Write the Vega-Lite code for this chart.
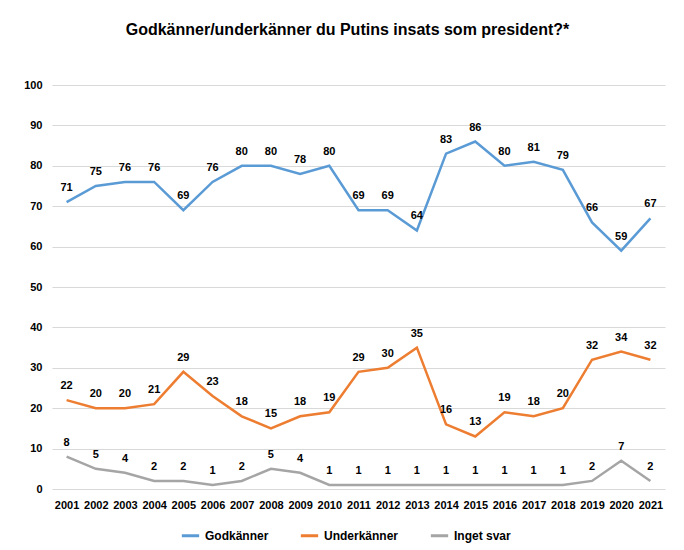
{
  "$schema": "https://vega.github.io/schema/vega-lite/v6.json",
  "width": 613,
  "height": 404,
  "autosize": "none",
  "padding": {"left": 52, "top": 85, "right": 19, "bottom": 61},
  "background": "white",
  "title": {
    "text": "Godkänner/underkänner  du Putins insats som president?*",
    "font": "Liberation Sans",
    "fontSize": 16,
    "fontWeight": "bold",
    "color": "#000000",
    "anchor": "middle",
    "dx": -11,
    "offset": 41
  },
  "config": {
    "view": {"stroke": null},
    "font": "Liberation Sans"
  },
  "datasets": {
    "d": [
      {"year": "2001", "series": "Godkänner", "value": 71},
      {"year": "2002", "series": "Godkänner", "value": 75},
      {"year": "2003", "series": "Godkänner", "value": 76},
      {"year": "2004", "series": "Godkänner", "value": 76},
      {"year": "2005", "series": "Godkänner", "value": 69},
      {"year": "2006", "series": "Godkänner", "value": 76},
      {"year": "2007", "series": "Godkänner", "value": 80},
      {"year": "2008", "series": "Godkänner", "value": 80},
      {"year": "2009", "series": "Godkänner", "value": 78},
      {"year": "2010", "series": "Godkänner", "value": 80},
      {"year": "2011", "series": "Godkänner", "value": 69},
      {"year": "2012", "series": "Godkänner", "value": 69},
      {"year": "2013", "series": "Godkänner", "value": 64},
      {"year": "2014", "series": "Godkänner", "value": 83},
      {"year": "2015", "series": "Godkänner", "value": 86},
      {"year": "2016", "series": "Godkänner", "value": 80},
      {"year": "2017", "series": "Godkänner", "value": 81},
      {"year": "2018", "series": "Godkänner", "value": 79},
      {"year": "2019", "series": "Godkänner", "value": 66},
      {"year": "2020", "series": "Godkänner", "value": 59},
      {"year": "2021", "series": "Godkänner", "value": 67},
      {"year": "2001", "series": "Underkänner", "value": 22},
      {"year": "2002", "series": "Underkänner", "value": 20},
      {"year": "2003", "series": "Underkänner", "value": 20},
      {"year": "2004", "series": "Underkänner", "value": 21},
      {"year": "2005", "series": "Underkänner", "value": 29},
      {"year": "2006", "series": "Underkänner", "value": 23},
      {"year": "2007", "series": "Underkänner", "value": 18},
      {"year": "2008", "series": "Underkänner", "value": 15},
      {"year": "2009", "series": "Underkänner", "value": 18},
      {"year": "2010", "series": "Underkänner", "value": 19},
      {"year": "2011", "series": "Underkänner", "value": 29},
      {"year": "2012", "series": "Underkänner", "value": 30},
      {"year": "2013", "series": "Underkänner", "value": 35},
      {"year": "2014", "series": "Underkänner", "value": 16},
      {"year": "2015", "series": "Underkänner", "value": 13},
      {"year": "2016", "series": "Underkänner", "value": 19},
      {"year": "2017", "series": "Underkänner", "value": 18},
      {"year": "2018", "series": "Underkänner", "value": 20},
      {"year": "2019", "series": "Underkänner", "value": 32},
      {"year": "2020", "series": "Underkänner", "value": 34},
      {"year": "2021", "series": "Underkänner", "value": 32},
      {"year": "2001", "series": "Inget svar", "value": 8},
      {"year": "2002", "series": "Inget svar", "value": 5},
      {"year": "2003", "series": "Inget svar", "value": 4},
      {"year": "2004", "series": "Inget svar", "value": 2},
      {"year": "2005", "series": "Inget svar", "value": 2},
      {"year": "2006", "series": "Inget svar", "value": 1},
      {"year": "2007", "series": "Inget svar", "value": 2},
      {"year": "2008", "series": "Inget svar", "value": 5},
      {"year": "2009", "series": "Inget svar", "value": 4},
      {"year": "2010", "series": "Inget svar", "value": 1},
      {"year": "2011", "series": "Inget svar", "value": 1},
      {"year": "2012", "series": "Inget svar", "value": 1},
      {"year": "2013", "series": "Inget svar", "value": 1},
      {"year": "2014", "series": "Inget svar", "value": 1},
      {"year": "2015", "series": "Inget svar", "value": 1},
      {"year": "2016", "series": "Inget svar", "value": 1},
      {"year": "2017", "series": "Inget svar", "value": 1},
      {"year": "2018", "series": "Inget svar", "value": 1},
      {"year": "2019", "series": "Inget svar", "value": 2},
      {"year": "2020", "series": "Inget svar", "value": 7},
      {"year": "2021", "series": "Inget svar", "value": 2}
    ]
  },
  "data": {"name": "d"},
  "encoding": {
    "x": {
      "field": "year",
      "type": "ordinal",
      "scale": {"type": "point", "padding": 0.5},
      "axis": {
        "title": null,
        "labelAngle": 0,
        "labelFont": "Liberation Sans",
        "labelFontSize": 11,
        "labelFontWeight": "bold",
        "labelColor": "#000000",
        "ticks": false,
        "domain": false,
        "labelPadding": 10
      }
    },
    "y": {
      "field": "value",
      "type": "quantitative",
      "scale": {"domain": [0, 100], "nice": false},
      "axis": {
        "title": null,
        "values": [0, 10, 20, 30, 40, 50, 60, 70, 80, 90, 100],
        "labelFont": "Liberation Sans",
        "labelFontSize": 11,
        "labelFontWeight": "bold",
        "labelColor": "#000000",
        "ticks": false,
        "domain": false,
        "gridColor": "#D9D9D9",
        "gridWidth": 1,
        "labelPadding": 10
      }
    },
    "color": {
      "field": "series",
      "type": "nominal",
      "scale": {
        "domain": ["Godkänner", "Underkänner", "Inget svar"],
        "range": ["#5B9BD5", "#ED7D31", "#A5A5A5"]
      },
      "legend": {
        "orient": "none",
        "legendX": 128,
        "legendY": 440,
        "direction": "horizontal",
        "title": null,
        "symbolType": "stroke",
        "symbolStrokeWidth": 3,
        "symbolSize": 300,
        "labelFont": "Liberation Sans",
        "labelFontSize": 12,
        "labelFontWeight": "bold",
        "labelColor": "#000000",
        "columnPadding": 25
      }
    }
  },
  "layer": [
    {
      "mark": {"type": "line", "strokeWidth": 2.5}
    },
    {
      "mark": {
        "type": "text",
        "dy": -14,
        "font": "Liberation Sans",
        "fontSize": 11,
        "fontWeight": "bold",
        "color": "#000000"
      },
      "encoding": {
        "text": {"field": "value", "type": "quantitative"},
        "color": {"value": "#000000"}
      }
    }
  ]
}
